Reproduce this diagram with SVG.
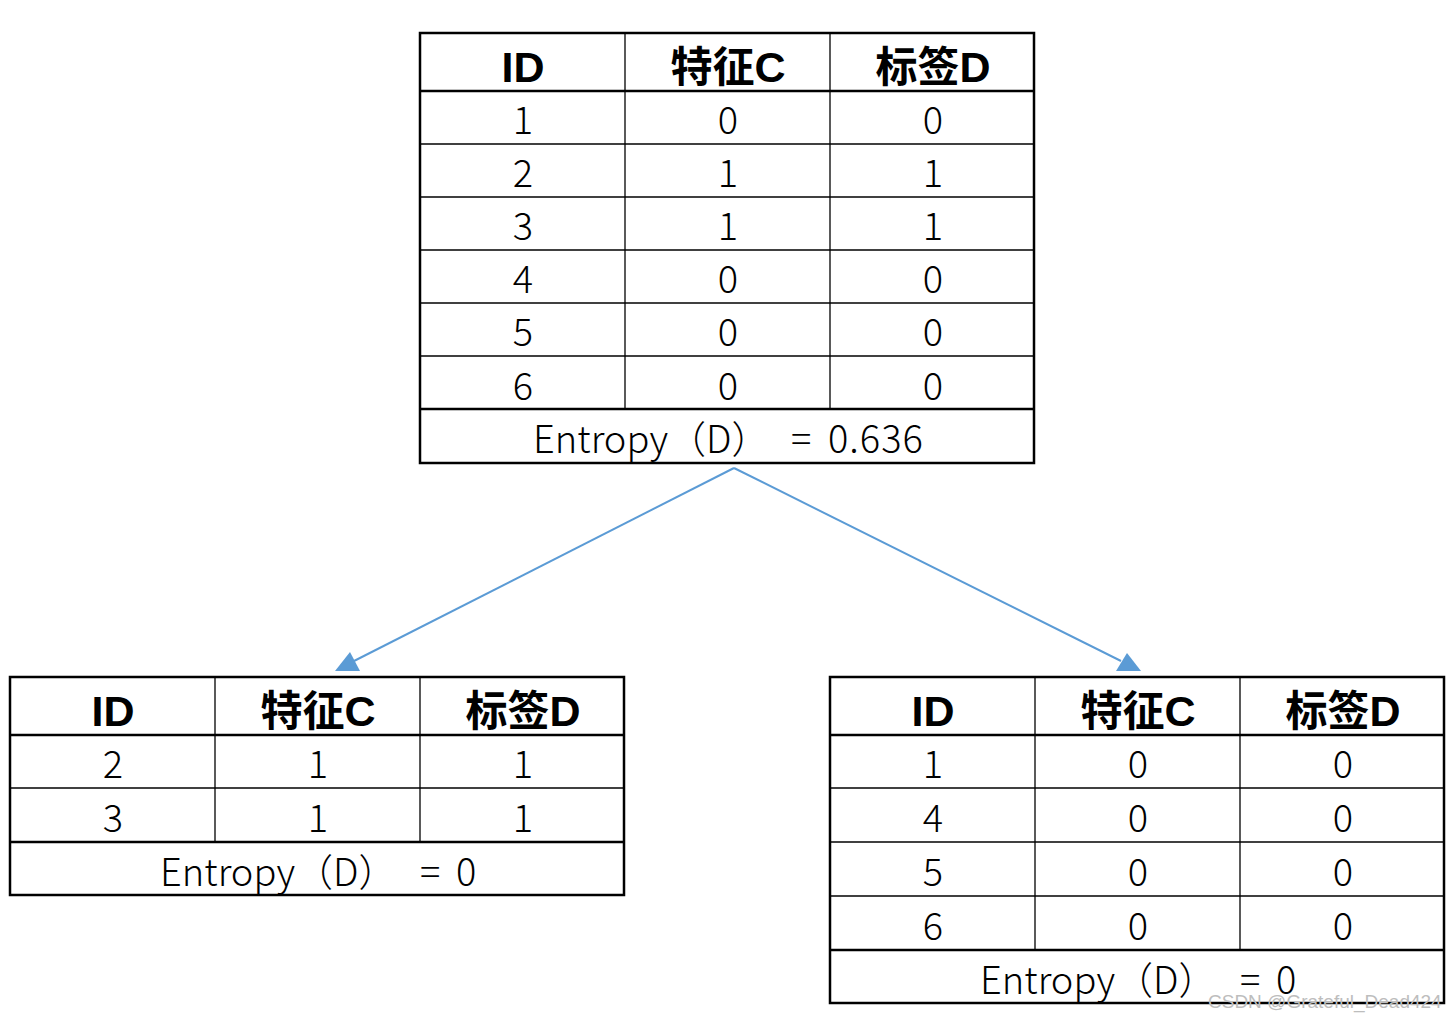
<svg xmlns="http://www.w3.org/2000/svg" width="1456" height="1021" viewBox="0 0 1456 1021">
<style>
.bg{fill:#fff}
.outer{fill:none;stroke:#000;stroke-width:2.5}
.thick{stroke:#000;stroke-width:2.5}
.thin{stroke:#000;stroke-width:1.3}
.hd{font-family:"Liberation Sans","Noto Sans CJK SC",sans-serif;font-weight:bold;font-size:43px;text-anchor:middle;fill:#000}
.hdc{font-family:"Noto Sans CJK SC",sans-serif;font-weight:bold;font-size:42px}
.cell{font-family:"Noto Sans CJK SC","Noto Sans",sans-serif;font-weight:300;font-size:38px;text-anchor:middle;fill:#000}
.ent{font-family:"Noto Sans CJK SC","Noto Sans",sans-serif;font-weight:300;font-size:38px;fill:#000}
.num{letter-spacing:1px}
.conn{stroke:#5B9BD5;stroke-width:2;fill:none}
.head{fill:#5B9BD5}
.wm{font-family:"Liberation Sans",sans-serif;font-size:19px;fill:#bdbdbd}
</style>
<rect class="bg" x="0" y="0" width="1456" height="1021"/>

<g id="connectors">
<line class="conn" x1="734" y1="468" x2="354" y2="661"/>
<polygon class="head" points="350,652 335,671 360,671"/>
<line class="conn" x1="734" y1="468" x2="1121" y2="661"/>
<polygon class="head" points="1127,653 1116,671 1141,671"/>
</g>

<g id="table-root">
<line class="thin" x1="625" y1="33" x2="625" y2="409"/>
<line class="thin" x1="830" y1="33" x2="830" y2="409"/>
<line class="thick" x1="420" y1="91" x2="1034" y2="91"/>
<line class="thin" x1="420" y1="144" x2="1034" y2="144"/>
<line class="thin" x1="420" y1="197" x2="1034" y2="197"/>
<line class="thin" x1="420" y1="250" x2="1034" y2="250"/>
<line class="thin" x1="420" y1="303" x2="1034" y2="303"/>
<line class="thin" x1="420" y1="356" x2="1034" y2="356"/>
<line class="thick" x1="420" y1="409" x2="1034" y2="409"/>
<rect class="outer" x="420" y="33" width="614" height="430"/>
<text class="hd" x="523" y="82">ID</text>
<text class="hd" x="728" y="82"><tspan class="hdc">特征</tspan>C</text>
<text class="hd" x="933" y="82"><tspan class="hdc">标签</tspan>D</text>
<text class="cell" x="523" y="134">1</text><text class="cell" x="728" y="134">0</text><text class="cell" x="933" y="134">0</text>
<text class="cell" x="523" y="187">2</text><text class="cell" x="728" y="187">1</text><text class="cell" x="933" y="187">1</text>
<text class="cell" x="523" y="240">3</text><text class="cell" x="728" y="240">1</text><text class="cell" x="933" y="240">1</text>
<text class="cell" x="523" y="293">4</text><text class="cell" x="728" y="293">0</text><text class="cell" x="933" y="293">0</text>
<text class="cell" x="523" y="346">5</text><text class="cell" x="728" y="346">0</text><text class="cell" x="933" y="346">0</text>
<text class="cell" x="523" y="400">6</text><text class="cell" x="728" y="400">0</text><text class="cell" x="933" y="400">0</text>
<text class="ent" y="453"><tspan x="533">Entropy（D）</tspan><tspan x="791">=</tspan><tspan class="num" x="828">0.636</tspan></text>
</g>

<g id="table-left">
<line class="thin" x1="215" y1="677" x2="215" y2="842"/>
<line class="thin" x1="420" y1="677" x2="420" y2="842"/>
<line class="thick" x1="10" y1="735" x2="624" y2="735"/>
<line class="thin" x1="10" y1="788" x2="624" y2="788"/>
<line class="thick" x1="10" y1="842" x2="624" y2="842"/>
<rect class="outer" x="10" y="677" width="614" height="218"/>
<text class="hd" x="113" y="726">ID</text>
<text class="hd" x="318" y="726"><tspan class="hdc">特征</tspan>C</text>
<text class="hd" x="523" y="726"><tspan class="hdc">标签</tspan>D</text>
<text class="cell" x="113" y="778">2</text><text class="cell" x="318" y="778">1</text><text class="cell" x="523" y="778">1</text>
<text class="cell" x="113" y="832">3</text><text class="cell" x="318" y="832">1</text><text class="cell" x="523" y="832">1</text>
<text class="ent" y="886"><tspan x="160">Entropy（D）</tspan><tspan x="420">=</tspan><tspan x="456">0</tspan></text>
</g>

<g id="table-right">
<line class="thin" x1="1035" y1="677" x2="1035" y2="950"/>
<line class="thin" x1="1240" y1="677" x2="1240" y2="950"/>
<line class="thick" x1="830" y1="735" x2="1444" y2="735"/>
<line class="thin" x1="830" y1="788" x2="1444" y2="788"/>
<line class="thin" x1="830" y1="842" x2="1444" y2="842"/>
<line class="thin" x1="830" y1="896" x2="1444" y2="896"/>
<line class="thick" x1="830" y1="950" x2="1444" y2="950"/>
<rect class="outer" x="830" y="677" width="614" height="326"/>
<text class="hd" x="933" y="726">ID</text>
<text class="hd" x="1138" y="726"><tspan class="hdc">特征</tspan>C</text>
<text class="hd" x="1343" y="726"><tspan class="hdc">标签</tspan>D</text>
<text class="cell" x="933" y="778">1</text><text class="cell" x="1138" y="778">0</text><text class="cell" x="1343" y="778">0</text>
<text class="cell" x="933" y="832">4</text><text class="cell" x="1138" y="832">0</text><text class="cell" x="1343" y="832">0</text>
<text class="cell" x="933" y="886">5</text><text class="cell" x="1138" y="886">0</text><text class="cell" x="1343" y="886">0</text>
<text class="cell" x="933" y="940">6</text><text class="cell" x="1138" y="940">0</text><text class="cell" x="1343" y="940">0</text>
<text class="ent" y="994"><tspan x="980">Entropy（D）</tspan><tspan x="1240">=</tspan><tspan x="1276">0</tspan></text>
</g>

<text class="wm" x="1208" y="1008">CSDN @Grateful_Dead424</text>
</svg>
